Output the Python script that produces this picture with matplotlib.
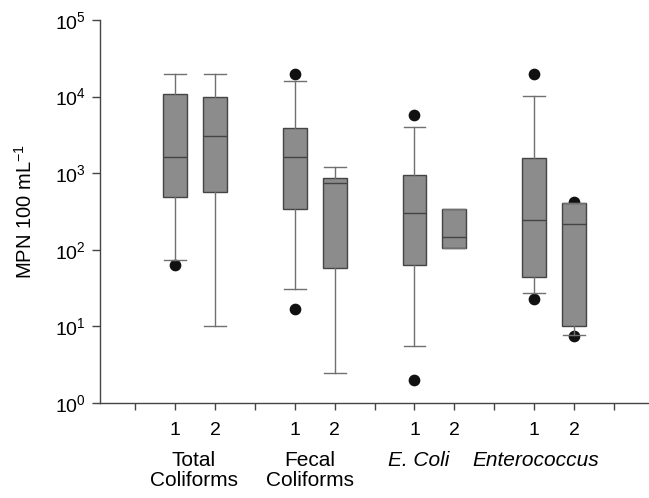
import numpy as np
import matplotlib.pyplot as plt

plt.rcParams['font.family'] = ['Liberation Sans', 'DejaVu Sans']
plt.rcParams['mathtext.fontset'] = 'custom'
plt.rcParams['mathtext.rm'] = 'Liberation Sans'
plt.rcParams['mathtext.it'] = 'Liberation Sans:italic'

# Box statistics (MPN 100 mL-1)
groups = ["Total\nColiforms", "Fecal\nColiforms", "E. Coli", "Enterococcus"]
group_italic = [False, False, True, True]
sub_labels = ["1", "2"] * 4
positions = [2, 3, 5, 6, 8, 9, 11, 12]
whislo = [73, 10, 31, 2.5, 5.6, 104, 27, 7.8]
q1 = [490, 565, 337, 57, 63, 104, 44, 10.1]
med = [1630, 3030, 1630, 752, 305, 146, 245, 215]
q3 = [10700, 10000, 3930, 875, 948, 344, 1565, 412]
whishi = [20000, 20000, 15800, 1217, 4050, 344, 10200, 412]
fliers = [[63], [], [20000, 17], [], [5700, 2.0], [], [20000, 23], [425, 7.5]]
group_label_x = [2.46, 5.37, 8.1, 11.03]

stats = []
for i in range(len(positions)):
    stats.append(dict(whislo=whislo[i], q1=q1[i], med=med[i], q3=q3[i],
                      whishi=whishi[i], fliers=fliers[i]))

fig = plt.figure(figsize=(6.49, 4.98), dpi=100)
ax = fig.add_axes([0.1541, 0.1908, 0.8459, 0.7690])

ax.bxp(stats, positions=positions, widths=0.6, patch_artist=True,
       showcaps=True, showfliers=False,
       boxprops=dict(facecolor='#8c8c8c', edgecolor='#444444', linewidth=1.0),
       medianprops=dict(color='#444444', linewidth=1.0),
       whiskerprops=dict(color='#707070', linewidth=1.0),
       capprops=dict(color='#707070', linewidth=1.0),
       capwidths=0.55, manage_ticks=False)

# outliers behind boxes
for p, fl in zip(positions, fliers):
    if fl:
        ax.scatter([p] * len(fl), fl, s=55, color='#111111', zorder=1.5)

ax.set_yscale('log')
ax.set_ylim(1, 1e5)
ax.set_xlim(0.116, 13.88)
ax.set_yticks([1, 10, 100, 1e3, 1e4, 1e5])
ax.set_yticklabels([r'$\mathregular{10^{%d}}$' % k for k in range(6)])
ax.yaxis.set_minor_locator(plt.NullLocator())
ax.set_xticks(np.arange(1, 14))
xlabels = [''] * 13
for p, s in zip(positions, sub_labels):
    xlabels[p - 1] = s
ax.set_xticklabels(xlabels)

ax.tick_params(axis='y', direction='out', length=6, width=1, color='#444444',
               labelsize=14, pad=4)
ax.tick_params(axis='x', direction='out', length=5, width=1, color='#444444',
               labelsize=14, pad=9)
ax.spines['top'].set_visible(False)
ax.spines['right'].set_visible(False)
for s in ['left', 'bottom']:
    ax.spines[s].set_color('#444444')
    ax.spines[s].set_linewidth(1.0)

ax.set_ylabel(r'MPN 100 mL$^{\mathregular{-1}}$', fontsize=14.5, labelpad=14)

for gx, g, it in zip(group_label_x, groups, group_italic):
    ax.text(gx, -0.125, g, transform=ax.get_xaxis_transform(), ha='center',
            va='top', fontsize=15, style='italic' if it else 'normal',
            linespacing=1.05)

fig.savefig('out.png', dpi=100)
